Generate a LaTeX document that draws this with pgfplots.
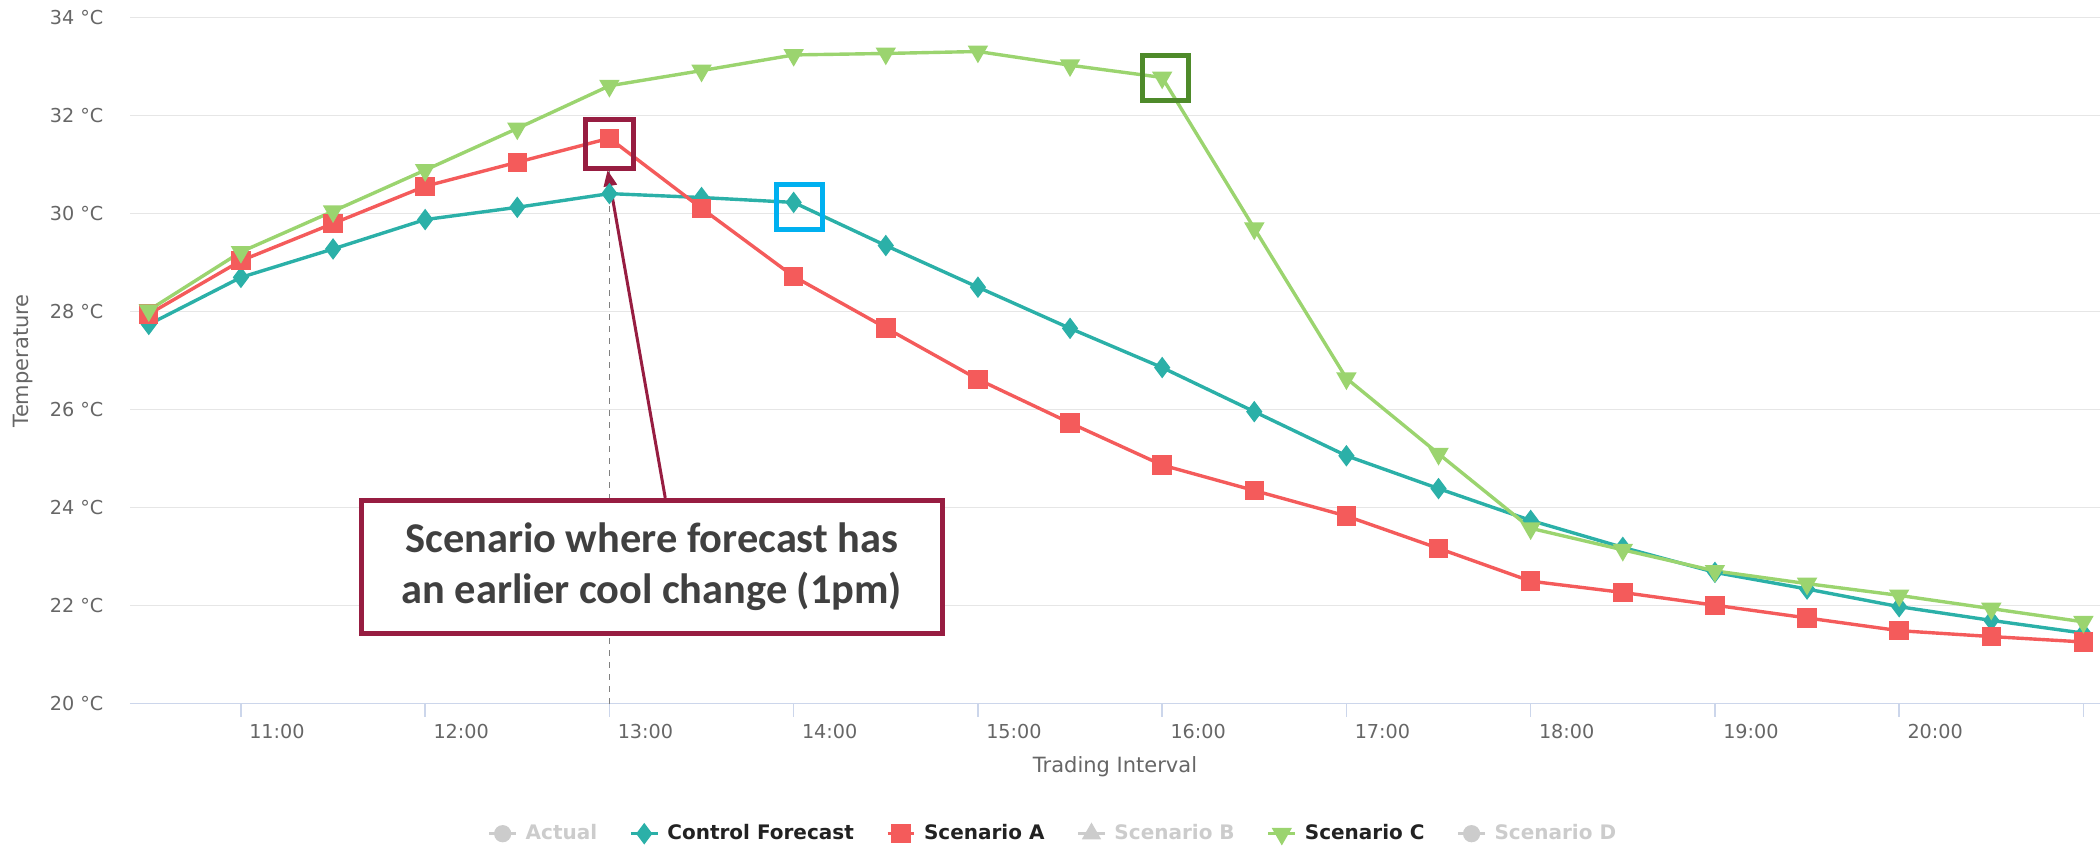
\documentclass[border=0pt]{standalone}
\usepackage{pgfplots}
\pgfplotsset{compat=1.18}
\usepackage{fontspec}
\setmainfont{DejaVu Sans}
\newfontfamily\annotfont{Carlito}
\usetikzlibrary{arrows.meta}
\definecolor{cteal}{HTML}{2BB0A8}
\definecolor{cred}{HTML}{F45B5B}
\definecolor{cgreen}{HTML}{9BD46F}
\definecolor{axisblue}{HTML}{CCD6EB}
\definecolor{gridgrey}{HTML}{E6E6E6}
\definecolor{labgrey}{HTML}{666666}
\definecolor{hidgrey}{HTML}{CCCCCC}
\definecolor{legtext}{HTML}{222222}
\definecolor{annred}{HTML}{971D41}
\definecolor{boxblue}{HTML}{00B0F0}
\definecolor{boxgreen}{HTML}{4E8A2A}
\definecolor{anntext}{HTML}{404040}
\newcommand{\tickfont}{\fontsize{9.6pt}{11.5pt}\selectfont}
\newcommand{\titlefont}{\fontsize{10.5pt}{12.5pt}\selectfont}
\newcommand{\legfont}{\fontsize{10pt}{12pt}\selectfont\bfseries}

\pgfplotstableread{
x y
10.5 27.74
11 28.70
11.5 29.28
12 29.88
12.5 30.13
13 30.41
13.5 30.33
14 30.23
14.5 29.35
15 28.50
15.5 27.66
16 26.86
16.5 25.96
17 25.06
17.5 24.39
18 23.74
18.5 23.19
19 22.68
19.5 22.34
20 21.98
20.5 21.70
21 21.44
}\control
\pgfplotstableread{
x y
10.5 27.95
11 29.04
11.5 29.80
12 30.56
12.5 31.05
13 31.54
13.5 30.11
14 28.72
14.5 27.67
15 26.62
15.5 25.73
16 24.87
16.5 24.35
17 23.83
17.5 23.17
18 22.50
18.5 22.27
19 22.01
19.5 21.75
20 21.49
20.5 21.37
21 21.26
}\scenA
\pgfplotstableread{
x y
10.5 28.03
11 29.22
11.5 30.05
12 30.89
12.5 31.74
13 32.61
13.5 32.92
14 33.24
14.5 33.27
15 33.31
15.5 33.03
16 32.78
16.5 29.70
17 26.64
17.5 25.10
18 23.58
18.5 23.14
19 22.71
19.5 22.45
20 22.21
20.5 21.94
21 21.67
}\scenC

\begin{document}
\begin{tikzpicture}
\begin{axis}[
  scale only axis, width=985pt, height=343pt,
  xmin=10.398, xmax=21.09, ymin=20, ymax=34,
  clip=false,
  axis x line*=bottom, axis y line*=left,
  x axis line style={draw=axisblue, line width=0.7pt},
  y axis line style={draw=none},
  xtick={11,12,...,21},
  xticklabels={11:00,12:00,13:00,14:00,15:00,16:00,17:00,18:00,19:00,20:00,{}},
  ytick={20,22,...,34},
  yticklabels={20 °C,22 °C,24 °C,26 °C,28 °C,30 °C,32 °C,34 °C},
  tick align=outside,
  xtick style={draw=axisblue, line width=0.7pt},
  ytick style={draw=none},
  major tick length=6.5pt,
  ymajorgrids, grid style={draw=gridgrey, line width=0.7pt},
  ticklabel style={font=\tickfont, text=labgrey},
  xticklabel style={anchor=north, xshift=18pt},
  yticklabel style={anchor=east, xshift=-3.3pt},
  xlabel={Trading Interval}, ylabel={Temperature},
  label style={font=\titlefont, text=labgrey},
  xlabel style={at={(axis description cs:0.5,-0.0925)}, anchor=center},
  ylabel style={at={(axis description cs:-0.0545,0.5)}, anchor=center},
  legend columns=6,
  legend style={at={(axis description cs:0.469,-0.1895)}, anchor=center, draw=none, fill=none, font=\legfont,
    /tikz/every even column/.append style={column sep=14pt},
    /tikz/every odd column/.append style={column sep=2pt}},
  legend image code/.code={\draw[mark repeat=2,mark phase=2,#1] plot coordinates {(0pt,0pt) (6.7pt,0pt) (13.4pt,0pt)};},
]
\addlegendimage{hidgrey, line width=1.6pt, mark=*, mark size=3.5pt}
\addlegendentry{\textcolor{hidgrey}{Actual}}
\addplot[cteal, line width=1.7pt, mark=diamond*, mark size=4pt] table[x=x,y=y]{\control};
\addlegendentry{\textcolor{legtext}{Control Forecast}}
\addplot[cred, line width=1.7pt, mark=square*, mark size=4pt] table[x=x,y=y]{\scenA};
\addlegendentry{\textcolor{legtext}{Scenario A}}
\addlegendimage{hidgrey, line width=1.6pt, mark=triangle*, mark size=4pt}
\addlegendentry{\textcolor{hidgrey}{Scenario B}}
\addplot[cgreen, line width=1.7pt, mark=triangle*, mark size=4.2pt, mark options={rotate=180}] table[x=x,y=y]{\scenC};
\addlegendentry{\textcolor{legtext}{Scenario C}}
\addlegendimage{hidgrey, line width=1.6pt, mark=*, mark size=3.5pt}
\addlegendentry{\textcolor{hidgrey}{Scenario D}}
% annotations
\draw[gray, line width=0.6pt, dash pattern=on 3pt off 3pt] (axis cs:13,20) -- (axis cs:13,30.9);
\draw[annred, line width=1.5pt, -{Triangle[length=8pt,width=6.5pt]}] (axis cs:13.303,24.20) -- (axis cs:12.99,30.89);
\node[draw=annred, line width=2.5pt, fill=white, minimum width=290.5pt, minimum height=66.5pt, inner sep=0pt,
  align=center, text=anntext, font=\annotfont\bfseries\fontsize{21.2pt}{25.5pt}\selectfont]
  at (axis cs:13.23,22.79) {Scenario where forecast has\\an earlier cool change (1pm)};
\node[draw=annred, line width=2.5pt, minimum width=24pt, minimum height=24.5pt, inner sep=0pt] at (axis cs:13,31.43) {};
\node[draw=boxblue, line width=2.5pt, minimum width=23pt, minimum height=22.5pt, inner sep=0pt] at (axis cs:14.03,30.14) {};
\node[draw=boxgreen, line width=2.5pt, minimum width=23pt, minimum height=22.5pt, inner sep=0pt] at (axis cs:16.02,32.76) {};
\end{axis}
\pgfresetboundingbox
\path[use as bounding box] (-65pt,-71.15pt) rectangle (985pt,351.85pt);
\end{tikzpicture}
\end{document}
